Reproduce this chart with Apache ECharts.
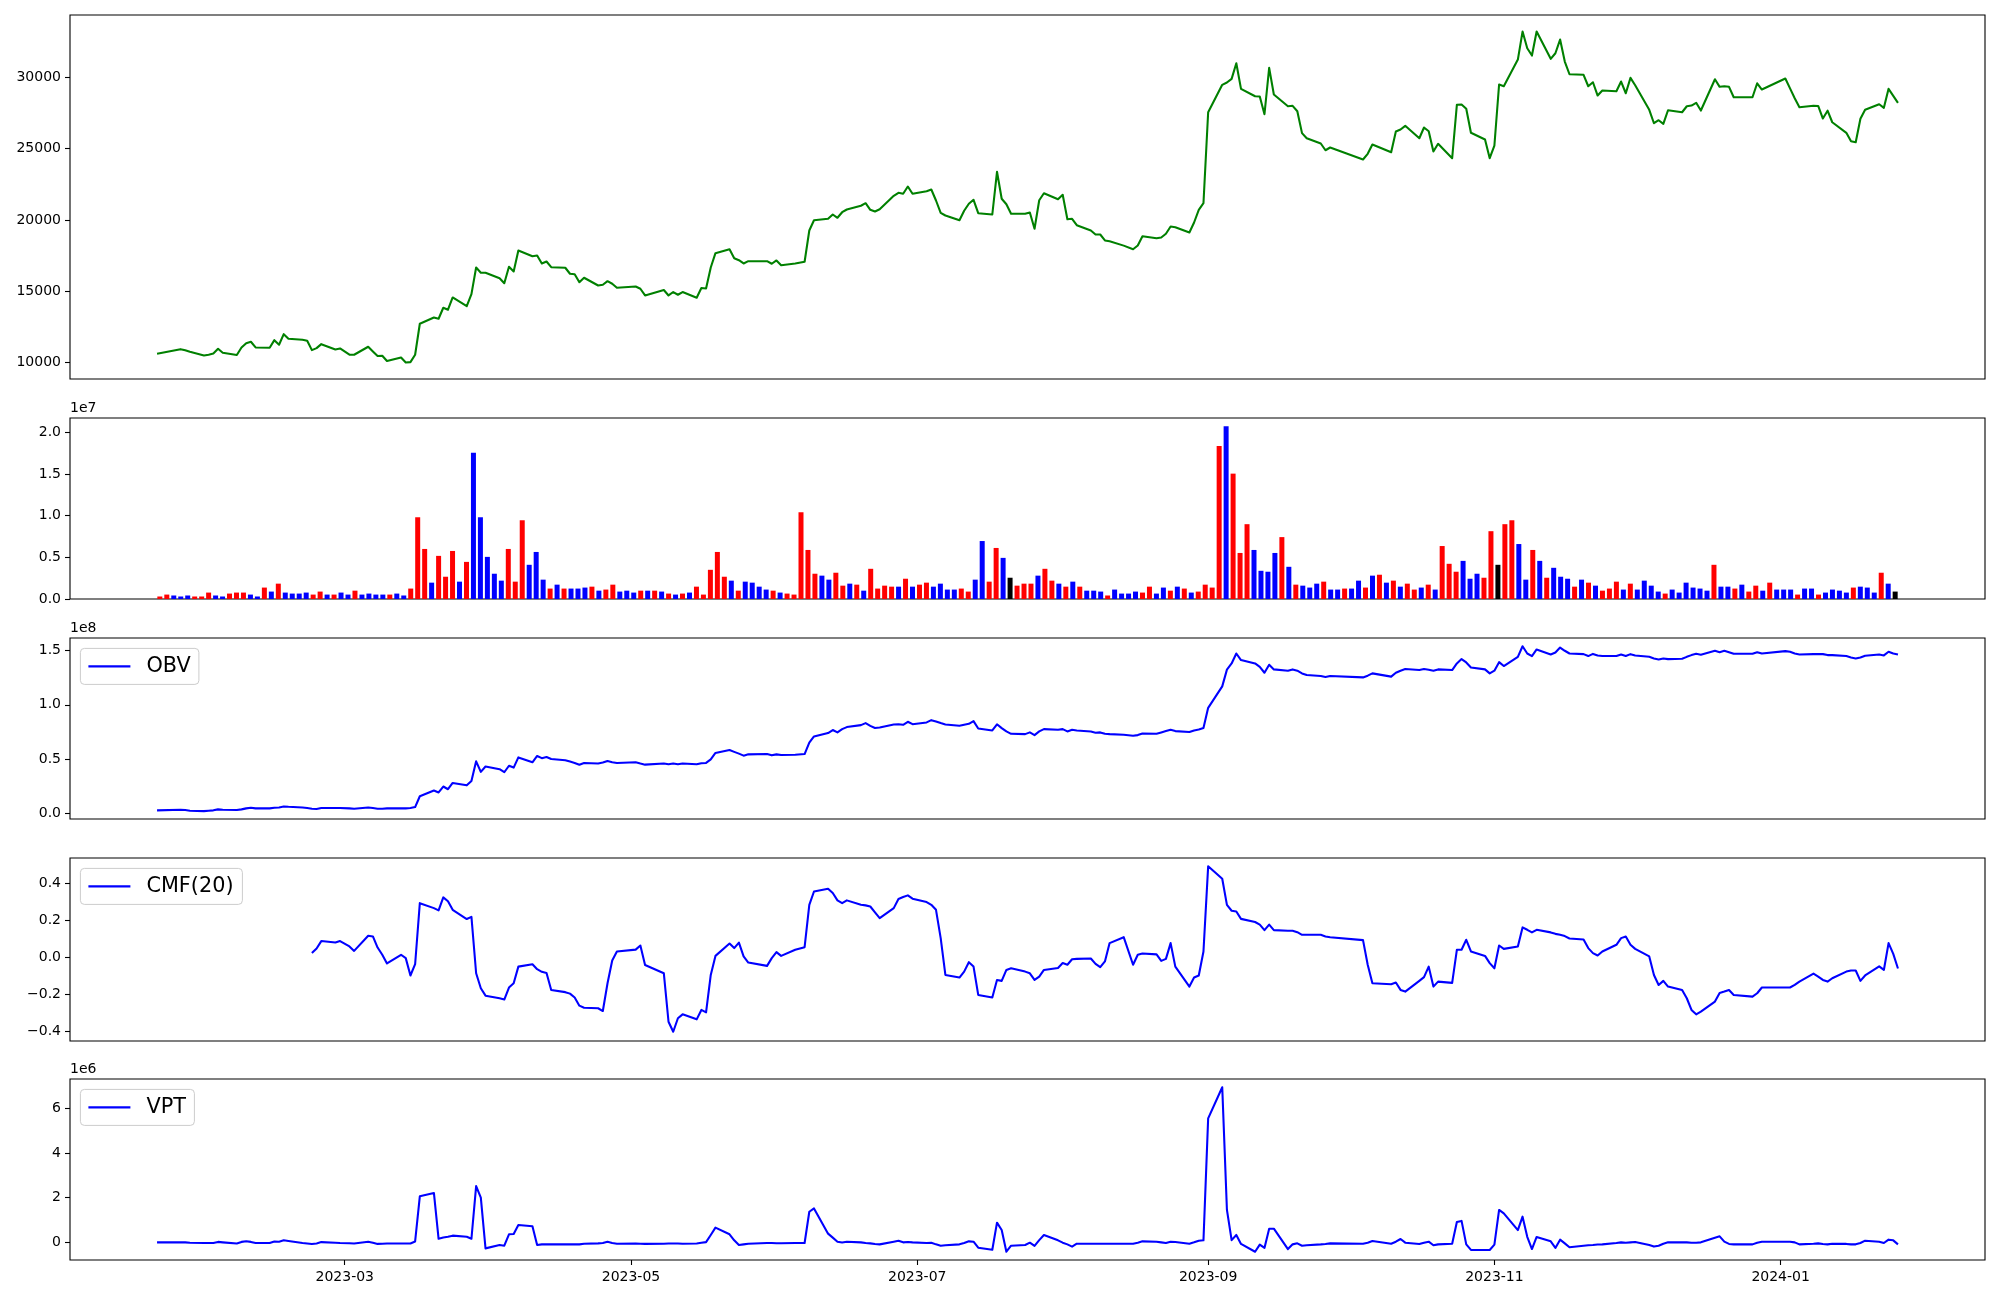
<!DOCTYPE html>
<html><head><meta charset="utf-8">
<script src="https://cdn.jsdelivr.net/npm/echarts@6/dist/echarts.min.js"></script>
<style>html,body{margin:0;padding:0;background:#fff}#c{width:2000px;height:1300px}</style>
</head><body><div id="c"></div>
<script>
// ---------------- data ----------------
const dates = [
'2023-01-20','2023-01-25','2023-01-26','2023-01-27','2023-01-30','2023-01-31',
'2023-02-01','2023-02-02','2023-02-03','2023-02-06','2023-02-07','2023-02-08','2023-02-09','2023-02-10','2023-02-13','2023-02-14','2023-02-15','2023-02-16','2023-02-17','2023-02-20','2023-02-21','2023-02-22','2023-02-23','2023-02-24','2023-02-27','2023-02-28',
'2023-03-02','2023-03-03','2023-03-06','2023-03-07','2023-03-08','2023-03-09','2023-03-10','2023-03-13','2023-03-14','2023-03-15','2023-03-16','2023-03-17','2023-03-20','2023-03-21','2023-03-22','2023-03-23','2023-03-24','2023-03-27','2023-03-28','2023-03-29','2023-03-30','2023-03-31',
'2023-04-03','2023-04-04','2023-04-05','2023-04-06','2023-04-07','2023-04-10','2023-04-11','2023-04-12','2023-04-13','2023-04-14','2023-04-17','2023-04-18','2023-04-19','2023-04-20','2023-04-21','2023-04-24','2023-04-25','2023-04-26','2023-04-27','2023-04-28',
'2023-05-02','2023-05-03','2023-05-04','2023-05-08','2023-05-09','2023-05-10','2023-05-11','2023-05-12','2023-05-15','2023-05-16','2023-05-17','2023-05-18','2023-05-19','2023-05-22','2023-05-23','2023-05-24','2023-05-25','2023-05-26','2023-05-30','2023-05-31',
'2023-06-01','2023-06-02','2023-06-05','2023-06-07','2023-06-08','2023-06-09','2023-06-12','2023-06-13','2023-06-14','2023-06-15','2023-06-16','2023-06-19','2023-06-20','2023-06-21','2023-06-22','2023-06-23','2023-06-26','2023-06-27','2023-06-28','2023-06-29','2023-06-30',
'2023-07-03','2023-07-04','2023-07-05','2023-07-06','2023-07-07','2023-07-10','2023-07-11','2023-07-12','2023-07-13','2023-07-14','2023-07-17','2023-07-18','2023-07-19','2023-07-20','2023-07-21','2023-07-24','2023-07-25','2023-07-26','2023-07-27','2023-07-28','2023-07-31',
'2023-08-01','2023-08-02','2023-08-03','2023-08-04','2023-08-07','2023-08-08','2023-08-09','2023-08-10','2023-08-11','2023-08-14','2023-08-16','2023-08-17','2023-08-18','2023-08-21','2023-08-22','2023-08-23','2023-08-24','2023-08-25','2023-08-28','2023-08-29','2023-08-30','2023-08-31',
'2023-09-01','2023-09-04','2023-09-05','2023-09-06','2023-09-07','2023-09-08','2023-09-11','2023-09-12','2023-09-13','2023-09-14','2023-09-15','2023-09-18','2023-09-19','2023-09-20','2023-09-21','2023-09-22','2023-09-25','2023-09-26','2023-09-27',
'2023-10-04','2023-10-05','2023-10-06','2023-10-10','2023-10-11','2023-10-12','2023-10-13','2023-10-16','2023-10-17','2023-10-18','2023-10-19','2023-10-20','2023-10-23','2023-10-24','2023-10-25','2023-10-26','2023-10-27','2023-10-30','2023-10-31',
'2023-11-01','2023-11-02','2023-11-03','2023-11-06','2023-11-07','2023-11-08','2023-11-09','2023-11-10','2023-11-13','2023-11-14','2023-11-15','2023-11-16','2023-11-17','2023-11-20','2023-11-21','2023-11-22','2023-11-23','2023-11-24','2023-11-27','2023-11-28','2023-11-29','2023-11-30',
'2023-12-01','2023-12-04','2023-12-05','2023-12-06','2023-12-07','2023-12-08','2023-12-11','2023-12-12','2023-12-13','2023-12-14','2023-12-15','2023-12-18','2023-12-19','2023-12-20','2023-12-21','2023-12-22','2023-12-26','2023-12-27','2023-12-28',
'2024-01-02','2024-01-03','2024-01-04','2024-01-05','2024-01-08','2024-01-09','2024-01-10','2024-01-11','2024-01-12','2024-01-15','2024-01-16','2024-01-17','2024-01-18','2024-01-19','2024-01-22','2024-01-23','2024-01-24','2024-01-25','2024-01-26'
];

const closePrice = [
10630,10950,10880,10770,10510,10560,10650,10980,10700,10540,
11070,11370,11470,11070,11050,11580,11260,12000,11680,11610,
11540,10880,11020,11300,10930,11000,10560,10560,11120,10790,
10470,10490,10120,10370,10020,10040,10560,12730,13170,13080,
13850,13710,14570,13960,14800,16670,16300,16300,15920,15570,
16720,16390,17860,17460,17510,16950,17090,16690,16650,16230,
16200,15640,15950,15410,15460,15710,15530,15250,15340,15180,
14710,15090,14710,14950,14760,14950,14550,15230,15200,16670,
17670,17950,17320,17180,16950,17110,17110,16930,17160,16830,
16950,17070,19260,19980,20080,20380,20150,20540,20730,20990,
21170,20710,20590,20750,21690,21900,21830,22340,21830,22010,
22130,21360,20500,20310,19980,20640,21130,21410,20470,20380,
23370,21480,21100,20430,20430,20520,19380,21380,21870,21450,
21760,20050,20080,19630,19260,18980,18980,18560,18500,18200,
17950,18210,18860,18720,18770,19030,19540,19490,19120,19820,
20710,21170,27540,29460,29620,29880,30970,29180,28660,28640,
27400,30650,28780,27960,27990,27610,26080,25720,25350,24880,
25070,24230,24630,25280,24740,26190,26330,26590,25720,26470,
26210,24790,25330,24320,28060,28080,27780,26100,25630,24320,
25210,29480,29360,31230,33190,32020,31510,33190,31280,31670,
32630,31090,30200,30160,29360,29640,28710,29060,29010,29690,
28870,29950,29430,27710,26770,26980,26730,27680,27540,27960,
28010,28200,27660,29850,29320,29360,29320,28590,28590,29570,
29130,29900,29210,28520,27890,28000,27980,27100,27650,26840,
26100,25510,25440,27080,27710,28100,27850,29180,28690,28200
];

// volume, in units of 1e7 (as on the axis)
const volume1e7 = [
0.030,0.053,0.042,0.030,0.042,0.030,0.030,0.077,0.042,0.030,
0.065,0.077,0.077,0.053,0.030,0.137,0.089,0.184,0.077,0.065,
0.065,0.077,0.053,0.089,0.053,0.053,0.077,0.053,0.100,0.053,
0.065,0.053,0.053,0.053,0.065,0.042,0.125,0.980,0.600,0.196,
0.517,0.267,0.576,0.208,0.445,1.752,0.980,0.505,0.303,0.220,
0.600,0.208,0.944,0.410,0.564,0.232,0.125,0.172,0.125,0.125,
0.125,0.137,0.148,0.100,0.113,0.172,0.089,0.100,0.077,0.100,
0.100,0.100,0.089,0.065,0.053,0.065,0.077,0.148,0.053,0.350,
0.564,0.267,0.220,0.100,0.208,0.196,0.148,0.113,0.100,0.077,
0.065,0.053,1.040,0.588,0.303,0.280,0.232,0.315,0.160,0.184,
0.172,0.100,0.362,0.125,0.160,0.148,0.148,0.243,0.148,0.172,
0.196,0.148,0.184,0.113,0.113,0.125,0.089,0.232,0.695,0.208,
0.612,0.493,0.255,0.160,0.184,0.184,0.280,0.362,0.220,0.184,
0.148,0.208,0.148,0.100,0.100,0.089,0.042,0.113,0.065,0.065,
0.089,0.077,0.148,0.065,0.137,0.100,0.148,0.125,0.077,0.089,
0.172,0.137,1.835,2.070,1.503,0.552,0.897,0.588,0.338,0.327,
0.552,0.742,0.386,0.172,0.160,0.137,0.184,0.208,0.113,0.113,
0.125,0.125,0.220,0.137,0.280,0.291,0.196,0.220,0.148,0.184,
0.113,0.137,0.172,0.113,0.635,0.422,0.327,0.457,0.243,0.303,
0.255,0.813,0.410,0.897,0.944,0.659,0.232,0.588,0.457,0.255,
0.374,0.267,0.243,0.148,0.232,0.196,0.160,0.100,0.125,0.208,
0.113,0.184,0.113,0.220,0.160,0.089,0.065,0.113,0.077,0.196,
0.137,0.125,0.100,0.410,0.148,0.148,0.125,0.172,0.089,0.160,
0.100,0.196,0.113,0.113,0.113,0.053,0.125,0.125,0.053,0.077,
0.113,0.100,0.077,0.137,0.148,0.137,0.077,0.315,0.184,0.089
];

// bar colour per day: r = red, b = blue, k = black (as drawn)
const barColorCode = (
'rrbbbrrrbb'+'rrrbbrbrbb'+'bbrrbrbbrb'+'bbbrbbrrrb'+'rrrbrbbbbb'+
'rrrbbbrbrb'+'bbrbrrbbbr'+'brbrbrbrrr'+'rrbrbbbbrb'+'rrrrrbbrrb'+
'rbrrrrbrbr'+'rbbbbrrbbr'+'rbkrrrbrrb'+'rbrbbbrbbb'+'brrbbrbrbr'+
'rrrbrrrbbb'+'brbrbbbrbb'+'rbbrbrbrbr'+'rbrbrrrbbb'+'rrkrrbbrbr'+
'bbbrbrbrrr'+'brbbbbrbbb'+'bbbrbbrbrr'+'brbbbrbbrb'+'bbbrbbbrbk'
).split('');

// OBV, in units of 1e8
const obv1e8 = [
0.025,0.031,0.028,0.022,0.018,0.022,0.025,0.034,0.031,0.028,
0.034,0.043,0.049,0.043,0.043,0.049,0.052,0.061,0.058,0.052,
0.046,0.040,0.037,0.046,0.046,0.046,0.043,0.040,0.052,0.046,
0.040,0.040,0.043,0.043,0.043,0.046,0.055,0.155,0.208,0.190,
0.245,0.220,0.278,0.256,0.297,0.478,0.380,0.430,0.405,0.377,
0.437,0.420,0.514,0.469,0.527,0.507,0.518,0.500,0.488,0.476,
0.463,0.447,0.463,0.457,0.466,0.481,0.469,0.463,0.469,0.457,
0.447,0.457,0.450,0.457,0.450,0.457,0.450,0.460,0.463,0.495,
0.555,0.582,0.565,0.549,0.530,0.542,0.545,0.533,0.542,0.536,
0.539,0.545,0.651,0.708,0.739,0.767,0.745,0.775,0.794,0.812,
0.831,0.805,0.785,0.790,0.818,0.821,0.815,0.843,0.821,0.837,
0.858,0.846,0.831,0.818,0.806,0.815,0.824,0.849,0.781,0.763,
0.820,0.785,0.754,0.732,0.729,0.745,0.720,0.754,0.775,0.769,
0.775,0.754,0.769,0.763,0.754,0.742,0.745,0.732,0.729,0.723,
0.714,0.720,0.735,0.732,0.745,0.757,0.769,0.757,0.748,0.763,
0.772,0.785,0.972,1.170,1.325,1.382,1.474,1.413,1.382,1.351,
1.296,1.370,1.327,1.315,1.327,1.315,1.290,1.275,1.266,1.257,
1.266,1.253,1.269,1.290,1.260,1.296,1.315,1.330,1.321,1.330,
1.324,1.315,1.327,1.321,1.382,1.422,1.391,1.345,1.327,1.290,
1.315,1.394,1.358,1.443,1.541,1.474,1.450,1.511,1.465,1.483,
1.529,1.499,1.474,1.468,1.450,1.470,1.455,1.450,1.450,1.465,
1.450,1.468,1.456,1.443,1.428,1.419,1.428,1.422,1.425,1.443,
1.459,1.471,1.462,1.499,1.486,1.499,1.486,1.471,1.471,1.486,
1.474,1.496,1.490,1.474,1.465,1.468,1.468,1.468,1.459,1.459,
1.450,1.437,1.428,1.437,1.453,1.465,1.456,1.490,1.474,1.465
];

// CMF(20); the first 21 days have no value
const cmf20 = [
null,null,null,null,null,null,null,null,null,null,
null,null,null,null,null,null,null,null,null,null,
null,0.025,0.05,0.09,0.082,0.09,0.061,0.037,0.119,0.115,
0.055,0.016,-0.031,0.016,-0.002,-0.096,-0.035,0.295,0.268,0.256,
0.326,0.305,0.259,0.209,0.221,-0.084,-0.165,-0.205,-0.219,-0.226,
-0.161,-0.138,-0.048,-0.035,-0.062,-0.076,-0.082,-0.174,-0.186,-0.194,
-0.215,-0.259,-0.27,-0.273,-0.288,-0.138,-0.015,0.034,0.044,0.066,
-0.039,-0.084,-0.346,-0.40,-0.327,-0.306,-0.333,-0.282,-0.295,-0.093,
0.01,0.077,0.052,0.082,0.007,-0.026,-0.044,-0.002,0.03,0.01,
0.043,0.057,0.286,0.358,0.373,0.35,0.31,0.295,0.31,0.286,
0.283,0.277,0.245,0.214,0.268,0.317,0.328,0.337,0.319,0.301,
0.286,0.259,0.106,-0.093,-0.107,-0.075,-0.024,-0.048,-0.201,-0.215,
-0.12,-0.125,-0.066,-0.057,-0.075,-0.084,-0.12,-0.102,-0.066,-0.055,
-0.029,-0.038,-0.008,-0.006,-0.004,-0.033,-0.051,-0.02,0.079,0.111,
-0.038,0.016,0.023,0.018,-0.017,-0.006,0.079,-0.048,-0.156,-0.107,
-0.096,0.034,0.494,0.427,0.286,0.254,0.25,0.21,0.193,0.179,
0.149,0.179,0.149,0.146,0.146,0.138,0.124,0.124,0.124,0.115,
0.111,0.095,-0.038,-0.138,-0.143,-0.134,-0.174,-0.183,-0.125,-0.105,
-0.048,-0.156,-0.129,-0.136,0.043,0.043,0.097,0.034,0.01,-0.029,
-0.057,0.066,0.048,0.061,0.164,0.151,0.137,0.151,0.137,0.129,
0.124,0.117,0.104,0.099,0.052,0.025,0.012,0.034,0.07,0.106,
0.115,0.07,0.048,0.007,-0.093,-0.147,-0.125,-0.156,-0.174,-0.219,
-0.282,-0.306,-0.291,-0.237,-0.19,-0.183,-0.174,-0.201,-0.21,-0.192,
-0.161,-0.161,-0.161,-0.147,-0.129,-0.086,-0.102,-0.12,-0.129,-0.111,
-0.075,-0.069,-0.069,-0.125,-0.096,-0.047,-0.066,0.079,0.021,-0.058
];

// VPT, in units of 1e6
const vpt1e6 = [
0,0,0,-0.02,-0.03,-0.03,-0.03,0.02,0,-0.05,
0.02,0.05,0.02,-0.03,-0.03,0.04,0.03,0.09,0.06,-0.03,
-0.05,-0.07,-0.05,0.01,-0.02,-0.03,-0.04,-0.05,0.03,-0.02,
-0.07,-0.06,-0.05,-0.05,-0.05,-0.05,0.04,2.06,2.21,0.16,
0.22,0.25,0.30,0.25,0.16,2.52,2.0,-0.27,-0.12,-0.15,
0.36,0.37,0.78,0.72,-0.12,-0.09,-0.09,-0.09,-0.09,-0.09,
-0.09,-0.09,-0.06,-0.045,-0.03,0.03,-0.03,-0.06,-0.05,-0.06,
-0.07,-0.06,-0.05,-0.05,-0.05,-0.06,-0.05,-0.02,0.01,0.33,
0.66,0.36,0.09,-0.12,-0.09,-0.06,-0.03,-0.03,-0.04,-0.04,
-0.03,-0.03,1.37,1.52,0.39,0.21,0.03,-0.01,0.03,0,
-0.03,-0.045,-0.07,-0.09,0.03,0.07,0,0.015,0,-0.03,
-0.015,-0.09,-0.15,-0.13,-0.09,-0.03,0.045,0.03,-0.24,-0.33,
0.88,0.55,-0.42,-0.15,-0.12,-0.015,-0.16,0.1,0.33,0.09,
-0.015,-0.09,-0.19,-0.06,-0.06,-0.06,-0.06,-0.06,-0.06,-0.06,
-0.06,-0.015,0.045,0.03,0,-0.03,0.03,0.015,-0.06,0,
0.075,0.09,5.55,6.94,1.45,0.1,0.33,-0.07,-0.42,-0.1,
-0.25,0.61,0.61,-0.3,-0.09,-0.045,-0.15,-0.13,-0.09,-0.07,
-0.045,-0.06,-0.015,0.06,-0.06,0.03,0.15,-0.015,-0.07,-0.015,
0.03,-0.13,-0.09,-0.06,0.91,0.96,-0.09,-0.34,-0.34,-0.34,
-0.1,1.45,1.3,0.55,1.15,0.25,-0.3,0.24,0.045,-0.25,
0.12,-0.045,-0.22,-0.15,-0.13,-0.12,-0.1,-0.09,-0.03,0,
-0.015,0,0.015,-0.12,-0.19,-0.15,-0.06,0,0,0,
-0.015,-0.015,0,0.21,0.27,0.03,-0.07,-0.09,-0.09,-0.015,
0.03,0.03,0.03,0,-0.09,-0.06,-0.045,-0.07,-0.09,-0.06,
-0.07,-0.09,-0.09,-0.03,0.075,0.03,-0.03,0.12,0.09,-0.09
];

const xTickLabels = ['2023-03','2023-05','2023-07','2023-09','2023-11','2024-01'];
const priceTicks = [10000,15000,20000,25000,30000];
const volumeTicks = [0,0.5,1.0,1.5,2.0];
const obvTicks = [0,0.5,1.0,1.5];
const cmfTicks = [-0.4,-0.2,0,0.2,0.4];
const vptTicks = [0,2,4,6];

// ---------------- chart ----------------
const FONT = 'DejaVu Sans';
const DAY = 86400000;
function ts(s){ const p = s.split('-').map(Number); return Date.UTC(p[0], p[1]-1, p[2] || 1); }
const T = dates.map(ts);
const tMin = T[0] - 18.55*DAY, tMax = T[T.length-1] + 18.55*DAY;
const xTickTs = xTickLabels.map(ts);
const nBars = volume1e7.length;
const bw = 0.8;
const idxSpan = (nBars - 1) + bw;
const iMin = -bw/2 - 0.05*idxSpan, iMax = (nBars - 1) + bw/2 + 0.05*idxSpan;
const colorMap = {r:'#ff0000', b:'#0000ff', k:'#000000'};

const L = 70, W = 1915;
const grids = [
  {top:15, height:364},
  {top:418, height:181},
  {top:638, height:181},
  {top:858, height:183},
  {top:1079, height:181}
].map(g => Object.assign({left:L, width:W, show:true, borderColor:'#000', borderWidth:1.1, backgroundColor:'transparent', containLabel:false}, g));

function yAx(gi, min, max, ticks, fmt){
  return {type:'value', gridIndex:gi, min:min, max:max, position:'left',
    splitLine:{show:false}, axisLine:{show:false, onZero:false},
    axisTick:{show:true, length:5, lineStyle:{color:'#000', width:1.1}, customValues:ticks},
    axisLabel:{show:true, customValues:ticks, formatter:fmt, color:'#000', fontFamily:FONT, fontSize:14, margin:9}};
}
function xDate(gi, labels){
  return {type:'value', gridIndex:gi, min:tMin, max:tMax, position:'bottom',
    splitLine:{show:false}, axisLine:{show:false, onZero:false},
    axisTick:{show:labels, length:5, lineStyle:{color:'#000', width:1.1}, customValues:xTickTs},
    axisLabel:{show:labels, customValues:xTickTs, color:'#000', fontFamily:FONT, fontSize:14, margin:10,
      formatter: v => { let best=0, bd=Infinity; xTickTs.forEach((t,i)=>{const d=Math.abs(t-v); if(d<bd){bd=d;best=i;}}); return xTickLabels[best]; }}};
}
const minus = v => (v < 0 ? '\u2212' : '') + Math.abs(v).toFixed(1);

const lineBase = {type:'line', symbol:'none', showSymbol:false, animation:false, connectNulls:false};
const option = {
  animation:false,
  backgroundColor:'#ffffff',
  grid: grids,
  xAxis: [
    xDate(0,false),
    {type:'value', gridIndex:1, min:iMin, max:iMax, show:false, splitLine:{show:false}, axisLine:{show:false, onZero:false}},
    xDate(2,false),
    xDate(3,false),
    xDate(4,true)
  ],
  yAxis: [
    yAx(0, 8860, 34350, priceTicks, v => String(v)),
    yAx(1, 0, 2.17, volumeTicks, v => v.toFixed(1)),
    yAx(2, -0.055, 1.617, obvTicks, v => v.toFixed(1)),
    yAx(3, -0.45, 0.539, cmfTicks, minus),
    yAx(4, -0.79, 7.31, vptTicks, v => String(v))
  ],
  series: [
    Object.assign({}, lineBase, {name:'Close', xAxisIndex:0, yAxisIndex:0,
      data: T.map((t,i)=>[t, closePrice[i]]),
      lineStyle:{color:'#008000', width:2.08, join:'round'}}),
    {type:'bar', name:'Volume', xAxisIndex:1, yAxisIndex:1, animation:false, barWidth:5,
      data: volume1e7.map((v,i)=>({value:[i, v], itemStyle:{color: colorMap[barColorCode[i]]}}))},
    Object.assign({}, lineBase, {name:'OBV', xAxisIndex:2, yAxisIndex:2,
      data: T.map((t,i)=>[t, obv1e8[i]]),
      lineStyle:{color:'#0000ff', width:2.08, join:'round'}}),
    Object.assign({}, lineBase, {name:'CMF(20)', xAxisIndex:3, yAxisIndex:3,
      data: T.map((t,i)=>[t, cmf20[i]]).filter(d => d[1] !== null),
      lineStyle:{color:'#0000ff', width:2.08, join:'round'}}),
    Object.assign({}, lineBase, {name:'VPT', xAxisIndex:4, yAxisIndex:4,
      data: T.map((t,i)=>[t, vpt1e6[i]]),
      lineStyle:{color:'#0000ff', width:2.08, join:'round'}})
  ],
  graphic: []
};

// axis offset texts and legend boxes
function offsetText(txt, top){
  return {type:'text', z:100, style:{text:txt, x:L, y:top-3, fill:'#000', font:'14px "DejaVu Sans"', align:'left', verticalAlign:'bottom'}};
}
function legendBox(txt, axTop, w){
  const x = L + 10.4, y = axTop + 10.4, h = 36, cy = y + h/2;
  return [
    {type:'rect', z:100, shape:{x:x, y:y, width:w, height:h, r:4}, style:{fill:'rgba(255,255,255,0.8)', stroke:'#cccccc', lineWidth:1}},
    {type:'line', z:101, shape:{x1:x+8, y1:cy, x2:x+50, y2:cy}, style:{stroke:'#0000ff', lineWidth:2.08}},
    {type:'text', z:101, style:{text:txt, x:x+66, y:cy, fill:'#000', font:'20.8px "DejaVu Sans"', align:'left', verticalAlign:'middle'}}
  ];
}
option.graphic = [
  offsetText('1e7', 418),
  offsetText('1e8', 638),
  offsetText('1e6', 1079)
].concat(legendBox('OBV', 638, 118.5), legendBox('CMF(20)', 858, 162), legendBox('VPT', 1079, 114));

const chart = echarts.init(document.getElementById('c'), null, {renderer:'canvas', width:2000, height:1300});
chart.setOption(option);
</script>
</body></html>
